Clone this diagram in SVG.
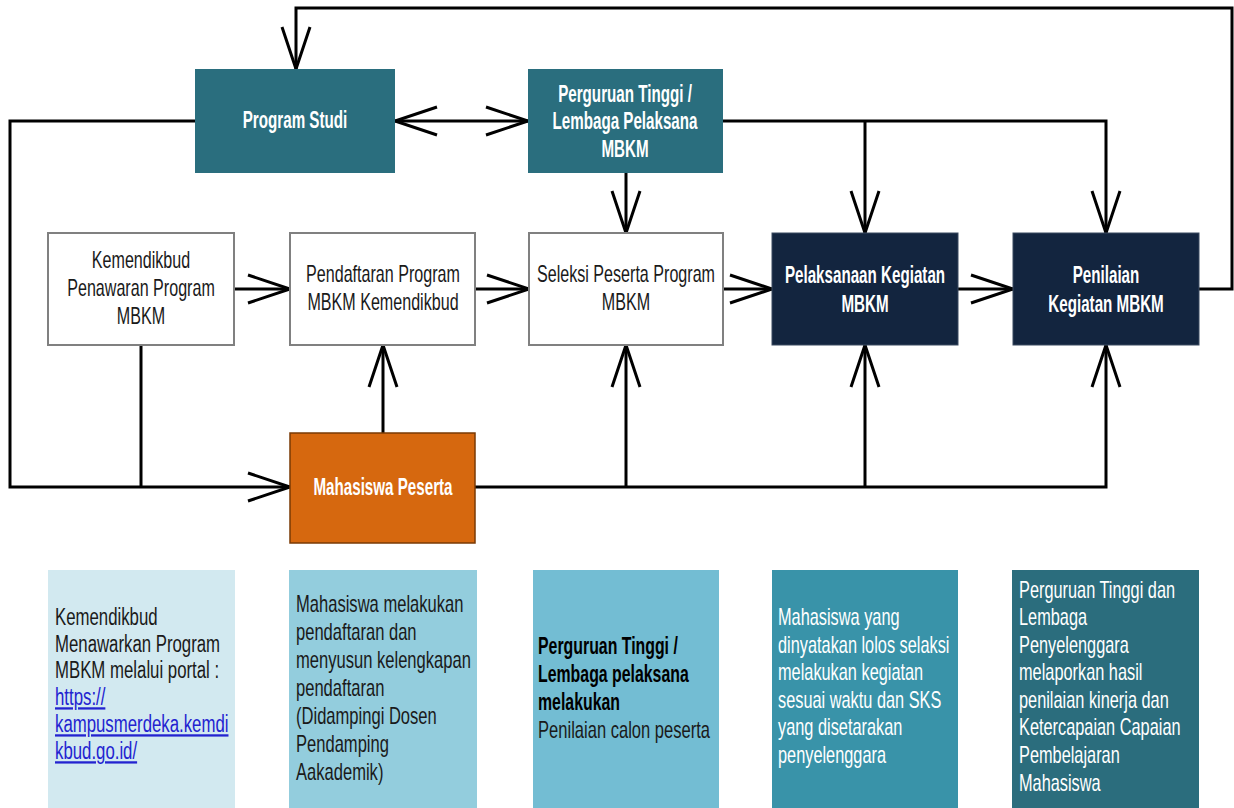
<svg xmlns="http://www.w3.org/2000/svg" width="1234" height="808" viewBox="0 0 1234 808">
<defs>
<style>
.bg{fill:#ffffff}
.wbox{fill:#ffffff;stroke:#808080;stroke-width:2}
.teal{fill:#2a6e7e}
.navy{fill:#13253f;stroke:#3a4a60;stroke-width:1}
.orange{fill:#d6680f;stroke:#7a3a05;stroke-width:1.5}
.conn{fill:none;stroke:#000000;stroke-width:3}
.t{font-family:"Liberation Sans",Arial,sans-serif;font-size:23px;fill:#1a1a1a;text-anchor:middle}
.tw{font-family:"Liberation Sans",Arial,sans-serif;font-size:23px;font-weight:bold;fill:#ffffff;text-anchor:middle}
.n{font-family:"Liberation Sans",Arial,sans-serif;font-size:23px;fill:#1a1a1a}
.nw{font-family:"Liberation Sans",Arial,sans-serif;font-size:23px;fill:#ffffff}
.nb{font-family:"Liberation Sans",Arial,sans-serif;font-size:23px;font-weight:bold;fill:#000000}
.link{fill:#2323d0;text-decoration:underline}
</style>
<marker id="ah" markerUnits="userSpaceOnUse" markerWidth="48" markerHeight="34" viewBox="0 0 48 34" refX="44" refY="17" orient="auto-start-reverse" overflow="visible">
<path d="M2,3 L44,17 L2,31" fill="none" stroke="#000000" stroke-width="3"/>
</marker>
</defs>
<rect class="bg" x="0" y="0" width="1234" height="808"/>

<g id="connectors">
<polyline class="conn" points="1199,289 1232,289 1232,8 296,8 296,69" marker-end="url(#ah)"/>
<polyline class="conn" points="195,121 10,121 10,487 290,487" marker-end="url(#ah)"/>
<line class="conn" x1="141" y1="345" x2="141" y2="487"/>
<line class="conn" x1="395" y1="121" x2="528" y2="121" marker-start="url(#ah)" marker-end="url(#ah)"/>
<polyline class="conn" points="723,121 1106,121 1106,233" marker-end="url(#ah)"/>
<line class="conn" x1="865" y1="121" x2="865" y2="233" marker-end="url(#ah)"/>
<line class="conn" x1="626" y1="173" x2="626" y2="233" marker-end="url(#ah)"/>
<line class="conn" x1="234" y1="289" x2="290" y2="289" marker-end="url(#ah)"/>
<line class="conn" x1="475" y1="289" x2="529" y2="289" marker-end="url(#ah)"/>
<line class="conn" x1="723" y1="289" x2="772" y2="289" marker-end="url(#ah)"/>
<line class="conn" x1="958" y1="289" x2="1013" y2="289" marker-end="url(#ah)"/>
<line class="conn" x1="383" y1="433" x2="383" y2="345" marker-end="url(#ah)"/>
<polyline class="conn" points="475,487 1106,487 1106,345" marker-end="url(#ah)"/>
<line class="conn" x1="626" y1="487" x2="626" y2="345" marker-end="url(#ah)"/>
<line class="conn" x1="865" y1="487" x2="865" y2="345" marker-end="url(#ah)"/>
</g>

<g id="program-studi">
<rect class="teal" x="195" y="69" width="200" height="104"/>
<g transform="translate(295 0) scale(0.66 1)">
<text class="tw" x="0" y="128">Program Studi</text>
</g>
</g>
<g id="perguruan-tinggi">
<rect class="teal" x="528" y="69" width="195" height="104"/>
<g transform="translate(625 0) scale(0.66 1)">
<text class="tw" x="0" y="102">Perguruan Tinggi /</text>
<text class="tw" x="0" y="129">Lembaga Pelaksana</text>
<text class="tw" x="0" y="157">MBKM</text>
</g>
</g>
<g id="kemendikbud">
<rect class="wbox" x="48" y="233" width="186" height="112"/>
<g transform="translate(141 0) scale(0.7 1)">
<text class="t" x="0" y="268">Kemendikbud</text>
<text class="t" x="0" y="296">Penawaran Program</text>
<text class="t" x="0" y="324">MBKM</text>
</g>
</g>
<g id="pendaftaran">
<rect class="wbox" x="290" y="233" width="185" height="112"/>
<g transform="translate(383 0) scale(0.7 1)">
<text class="t" x="0" y="282">Pendaftaran Program</text>
<text class="t" x="0" y="310">MBKM Kemendikbud</text>
</g>
</g>
<g id="seleksi">
<rect class="wbox" x="529" y="233" width="194" height="112"/>
<g transform="translate(626 0) scale(0.7 1)">
<text class="t" x="0" y="282">Seleksi Peserta Program</text>
<text class="t" x="0" y="310">MBKM</text>
</g>
</g>
<g id="pelaksanaan">
<rect class="navy" x="772" y="233" width="186" height="112"/>
<g transform="translate(865 0) scale(0.66 1)">
<text class="tw" x="0" y="283">Pelaksanaan Kegiatan</text>
<text class="tw" x="0" y="312">MBKM</text>
</g>
</g>
<g id="penilaian">
<rect class="navy" x="1013" y="233" width="186" height="112"/>
<g transform="translate(1106 0) scale(0.66 1)">
<text class="tw" x="0" y="283">Penilaian</text>
<text class="tw" x="0" y="312">Kegiatan MBKM</text>
</g>
</g>
<g id="mahasiswa-peserta">
<rect class="orange" x="290" y="433" width="185" height="110"/>
<g transform="translate(383 0) scale(0.66 1)">
<text class="tw" x="0" y="495">Mahasiswa Peserta</text>
</g>
</g>

<g id="note-1">
<rect x="48" y="570" width="187" height="238" fill="#d2e9f0"/>
<g transform="translate(55 0) scale(0.73 1)">
<text class="n" x="0" y="625">Kemendikbud</text>
<text class="n" x="0" y="652">Menawarkan Program</text>
<text class="n" x="0" y="678">MBKM melalui portal  :</text>
<text class="n link" x="0" y="705">https://</text>
<text class="n link" x="0" y="732">kampusmerdeka.kemdi</text>
<text class="n link" x="0" y="759">kbud.go.id/</text>
</g>
</g>
<g id="note-2">
<rect x="289" y="570" width="188" height="238" fill="#93cddd"/>
<g transform="translate(296 0) scale(0.72 1)">
<text class="n" x="0" y="612">Mahasiswa melakukan</text>
<text class="n" x="0" y="640">pendaftaran dan</text>
<text class="n" x="0" y="668">menyusun kelengkapan</text>
<text class="n" x="0" y="696">pendaftaran</text>
<text class="n" x="0" y="724">(Didampingi Dosen</text>
<text class="n" x="0" y="752">Pendamping</text>
<text class="n" x="0" y="780">Aakademik)</text>
</g>
</g>
<g id="note-3">
<rect x="533" y="570" width="186" height="238" fill="#73bdd3"/>
<g transform="translate(538 0) scale(0.69 1)">
<text class="nb" x="0" y="654">Perguruan Tinggi /</text>
<text class="nb" x="0" y="682">Lembaga pelaksana</text>
<text class="nb" x="0" y="710">melakukan</text>
</g>
<g transform="translate(538 0) scale(0.72 1)">
<text class="n" x="0" y="738">Penilaian calon peserta</text>
</g>
</g>
<g id="note-4">
<rect x="772" y="570" width="186" height="238" fill="#3993a9"/>
<g transform="translate(778 0) scale(0.71 1)">
<text class="nw" x="0" y="625">Mahasiswa yang</text>
<text class="nw" x="0" y="653">dinyatakan lolos selaksi</text>
<text class="nw" x="0" y="680">melakukan kegiatan</text>
<text class="nw" x="0" y="708">sesuai waktu dan SKS</text>
<text class="nw" x="0" y="735">yang disetarakan</text>
<text class="nw" x="0" y="763">penyelenggara</text>
</g>
</g>
<g id="note-5">
<rect x="1012" y="570" width="187" height="238" fill="#2b6d7d"/>
<g transform="translate(1019 0) scale(0.71 1)">
<text class="nw" x="0" y="598">Perguruan Tinggi dan</text>
<text class="nw" x="0" y="625">Lembaga</text>
<text class="nw" x="0" y="653">Penyelenggara</text>
<text class="nw" x="0" y="680">melaporkan hasil</text>
<text class="nw" x="0" y="708">penilaian kinerja dan</text>
<text class="nw" x="0" y="735">Ketercapaian Capaian</text>
<text class="nw" x="0" y="763">Pembelajaran</text>
<text class="nw" x="0" y="791">Mahasiswa</text>
</g>
</g>
</svg>
